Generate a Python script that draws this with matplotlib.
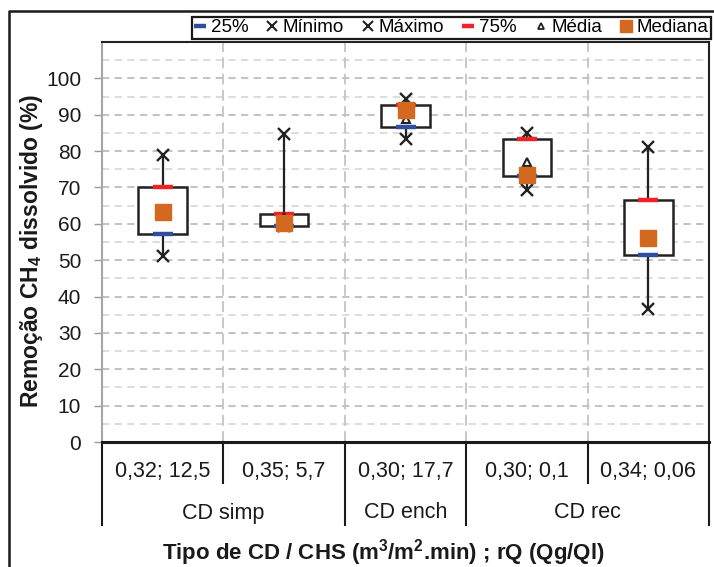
import matplotlib
matplotlib.use("Agg")
import matplotlib.pyplot as plt
from matplotlib.lines import Line2D
import matplotlib.transforms as mtransforms

plt.rcParams['font.family'] = ['Liberation Sans', 'DejaVu Sans']
plt.rcParams['mathtext.fontset'] = 'custom'
plt.rcParams['mathtext.rm'] = 'Liberation Sans'
plt.rcParams['mathtext.bf'] = 'Liberation Sans:bold'

# ---- data ----
categories = ["0,32; 12,5", "0,35; 5,7", "0,30; 17,7", "0,30; 0,1", "0,34; 0,06"]
groups = ["CD simp", "CD ench", "CD rec"]
group_sizes = [2, 1, 2]
minimo = [51.2, 59.3, 83.2, 69.2, 36.7]
q25 = [57.3, 59.3, 86.6, 73.1, 51.4]
mediana = [63.3, 60.1, 91.4, 73.4, 56.2]
media = [63.5, 62.0, 88.7, 77.0, 56.5]
q75 = [70.1, 62.6, 92.8, 83.4, 66.5]
maximo = [79.0, 84.8, 94.4, 85.0, 81.0]
yticks = list(range(0, 101, 10))

BLUE = '#2F4EA2'
RED = '#EE2229'
ORANGE = '#D2691E'

W, H = 714, 567
fig = plt.figure(figsize=(W / 100, H / 100), dpi=100)
ax = fig.add_axes([102 / W, 1 - 442 / H, 607 / W, 400 / H])

x = list(range(1, len(categories) + 1))

# grid
for v in range(5, 111, 5):
    major = (v % 10 == 0)
    ax.axhline(v, color='#BDBDBD' if major else '#D9D9D9', lw=1.3,
               dashes=(4, 3), zorder=0)
for b in [1.5, 2.5, 3.5, 4.5]:
    ax.axvline(b, color='#C4C4C4', lw=1.3, dashes=(6, 3), zorder=0)

# whiskers and boxes
ax.vlines(x, minimo, maximo, color='#222222', lw=1.6, zorder=2)
heights = [b - a for a, b in zip(q25, q75)]
ax.bar(x, heights, bottom=q25, width=0.4, color='white', edgecolor='#222222',
       linewidth=1.8, zorder=3)

ax.plot(x, q25, ls='none', marker='_', ms=14, mew=3.2, color=BLUE, zorder=4)
ax.plot(x, minimo, ls='none', marker='x', ms=8.5, mew=1.7, color='#222222', zorder=4)
ax.plot(x, maximo, ls='none', marker='x', ms=8.5, mew=1.7, color='#222222', zorder=4)
ax.plot(x, q75, ls='none', marker='_', ms=14, mew=3.2, color=RED, zorder=4)
ax.plot(x, media, ls='none', marker='^', ms=6, mew=1.5, mfc='white', mec='#222222', zorder=5)
ax.plot(x, mediana, ls='none', marker='s', ms=11, color=ORANGE, zorder=6)

ax.set_xlim(0.5, 5.5)
ax.set_ylim(0, 110)
ax.set_yticks(yticks)
ax.set_xticks([])
ax.tick_params(axis='y', labelsize=15, length=6, width=1, color='#999999', pad=9,
               labelcolor='#1a1a1a')
for s in ['top', 'right']:
    ax.spines[s].set_color('#222222')
    ax.spines[s].set_linewidth(1.5)
ax.spines['left'].set_color('#A6A6A6')
ax.spines['left'].set_linewidth(1.5)
ax.spines['bottom'].set_color('#1a1a1a')
ax.spines['bottom'].set_linewidth(2.2)

# multi-level category axis
trans = mtransforms.blended_transform_factory(ax.transData, ax.transAxes)
short = -41 / 400
long_ = -83 / 400
bounds = [0.5]
acc = 0.5
for g in group_sizes:
    acc += g
    bounds.append(acc)
for i in range(len(categories) + 1):
    b = 0.5 + i
    y1 = long_ if b in bounds else short
    ax.add_line(Line2D([b, b], [0, y1], transform=trans, color='#1a1a1a',
                       lw=1.5, clip_on=False))
for xi, c in zip(x, categories):
    ax.text(xi, -30 / 400, c, transform=trans, ha='center', va='center',
            fontsize=15.5, color='#1a1a1a')
for gi, g in enumerate(groups):
    cx = (bounds[gi] + bounds[gi + 1]) / 2
    ax.text(cx, -71 / 400, g, transform=trans, ha='center', va='center',
            fontsize=15.5, color='#1a1a1a')

fig.text(383 / W, 1 - 553 / H, r"Tipo de CD / CHS (m$^\mathbf{3}$/m$^\mathbf{2}$.min) ; rQ (Qg/Ql)",
         ha='center', va='center', fontsize=16, fontweight='bold', color='#1a1a1a')
fig.text(32 / W, 1 - 251 / H, r"Remoção CH$_\mathbf{4}$ dissolvido (%)", rotation=90,
         ha='center', va='center', fontsize=16.5, fontweight='bold', color='#1a1a1a')

# outer frame
fig.add_artist(Line2D([9 / W, 9 / W, 1.0], [0, 1 - 11 / H, 1 - 11 / H],
                      transform=fig.transFigure, color='#1a1a1a', lw=1.8))

# legend
handles = [
    Line2D([], [], ls='none', marker='_', ms=9, mew=3.2, color=BLUE),
    Line2D([], [], ls='none', marker='x', ms=7, mew=1.5, color='#222222'),
    Line2D([], [], ls='none', marker='x', ms=7, mew=1.5, color='#222222'),
    Line2D([], [], ls='none', marker='_', ms=9, mew=3.2, color=RED),
    Line2D([], [], ls='none', marker='^', ms=5, mew=1.3, mfc='white', mec='#222222'),
    Line2D([], [], ls='none', marker='s', ms=8, color=ORANGE),
]
labels = ["25%", "Mínimo", "Máximo", "75%", "Média", "Mediana"]
leg = fig.legend(handles, labels, loc='upper right', ncol=6,
                 bbox_to_anchor=(711 / W, 1 - 17 / H), borderaxespad=0,
                 fancybox=False, edgecolor='#1a1a1a', fontsize=13.5,
                 handlelength=0.55, handletextpad=0.3, columnspacing=1.0,
                 borderpad=0.12, framealpha=1)
leg.get_frame().set_linewidth(1.6)

fig.savefig("out.png", dpi=100)
